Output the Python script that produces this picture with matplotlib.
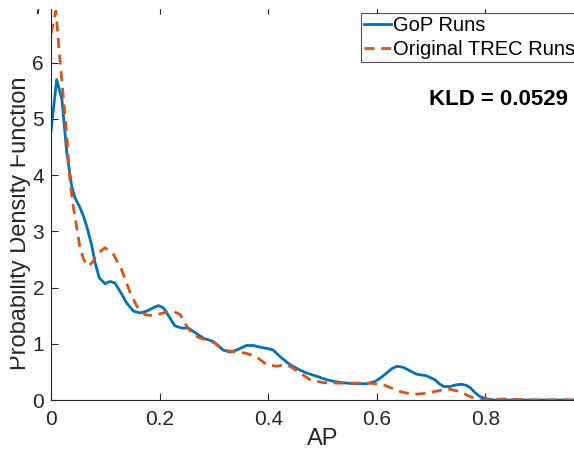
import matplotlib
matplotlib.use("Agg")
import matplotlib.pyplot as plt
from matplotlib.patches import Rectangle
from matplotlib.ticker import FormatStrFormatter

plt.rcParams["font.family"] = ["Liberation Sans", "DejaVu Sans"]

# GoP runs density
gop_ap = [0.0, 0.0105, 0.020, 0.029, 0.038, 0.044, 0.052, 0.0595, 0.067, 0.075,
          0.081, 0.089, 0.0995, 0.109, 0.118, 0.128, 0.139, 0.152, 0.164, 0.176,
          0.188, 0.198, 0.207, 0.219, 0.228, 0.241, 0.253, 0.262, 0.281, 0.299,
          0.317, 0.330, 0.342, 0.360, 0.373, 0.385, 0.397, 0.409, 0.422, 0.440,
          0.459, 0.471, 0.490, 0.508, 0.527, 0.545, 0.563, 0.581, 0.597, 0.608,
          0.618, 0.628, 0.637, 0.649, 0.661, 0.673, 0.692, 0.707, 0.715, 0.723,
          0.735, 0.746, 0.756, 0.765, 0.772, 0.781, 0.790, 0.802, 0.815, 0.85, 1.0]
gop_pdf = [4.79, 5.70, 5.36, 4.41, 3.81, 3.60, 3.45, 3.28, 3.05, 2.75,
           2.45, 2.17, 2.07, 2.11, 2.08, 1.92, 1.73, 1.58, 1.55, 1.58,
           1.64, 1.68, 1.64, 1.46, 1.32, 1.28, 1.28, 1.22, 1.10, 1.04,
           0.89, 0.85, 0.89, 0.97, 0.97, 0.94, 0.92, 0.89, 0.77, 0.63,
           0.53, 0.48, 0.42, 0.36, 0.32, 0.30, 0.29, 0.29, 0.33, 0.40,
           0.48, 0.56, 0.60, 0.58, 0.52, 0.46, 0.43, 0.36, 0.29, 0.24,
           0.24, 0.27, 0.28, 0.26, 0.22, 0.13, 0.06, 0.02, 0.0, 0.0, 0.0]

# original TREC runs density
trec_ap = [0.0, 0.009, 0.0165, 0.023, 0.029, 0.035, 0.040, 0.044, 0.053, 0.060,
           0.069, 0.078, 0.084, 0.0995, 0.115, 0.130, 0.145, 0.158, 0.173, 0.188,
           0.207, 0.225, 0.238, 0.250, 0.262, 0.275, 0.287, 0.302, 0.317, 0.336,
           0.360, 0.379, 0.397, 0.416, 0.430, 0.440, 0.459, 0.477, 0.501, 0.532,
           0.563, 0.587, 0.612, 0.628, 0.643, 0.667, 0.692, 0.716, 0.735, 0.753,
           0.772, 0.790, 0.84, 0.88, 1.0]
trec_pdf = [6.52, 6.92, 6.05, 5.36, 4.70, 3.90, 3.50, 3.27, 2.73, 2.50,
            2.38, 2.47, 2.59, 2.71, 2.59, 2.32, 1.93, 1.67, 1.52, 1.50,
            1.55, 1.58, 1.52, 1.31, 1.16, 1.10, 1.07, 1.01, 0.89, 0.86,
            0.83, 0.76, 0.63, 0.60, 0.63, 0.60, 0.48, 0.36, 0.31, 0.30,
            0.30, 0.30, 0.27, 0.21, 0.15, 0.10, 0.12, 0.17, 0.19, 0.15,
            0.06, 0.0, 0.02, 0.0, 0.0]

xtick_vals = [0, 0.2, 0.4, 0.6, 0.8]
kld_text = "KLD = 0.0529"

W, H = 574, 459
fig = plt.figure(figsize=(W / 100, H / 100), dpi=100)
# the source picture is cropped: x = 1 lies past the right edge
ax = fig.add_axes([51 / W, 59 / H, 543 / W, 393.4 / H])

blue = "#0072BD"
orange = "#D95319"
dark = "#262626"

ax.plot(gop_ap, gop_pdf, color=blue, lw=2.0, label="GoP Runs")
ax.plot(trec_ap, trec_pdf, color=orange, lw=2.0, dashes=(3.6, 2.4),
        label="Original TREC Runs")

ax.set_xlim(0, 1)
ax.set_ylim(0, 7)
ax.set_xticks(xtick_vals)
ax.set_yticks(range(0, 8))
ax.xaxis.set_major_formatter(FormatStrFormatter("%g"))

ax.tick_params(direction="in", length=5, width=0.8, colors=dark,
               labelsize=15, top=True, right=True)
ax.tick_params(axis="x", pad=7)
ax.tick_params(axis="y", pad=5)
for sp in ax.spines.values():
    sp.set_color(dark)
    sp.set_linewidth(0.8)

ax.set_xlabel("AP", fontsize=17, color=dark)
ax.set_ylabel("Probability Density Function", fontsize=17, color=dark)
ax.xaxis.set_label_coords(0.5, -0.072)
ax.yaxis.set_label_coords(-0.037, 0.449)

ax.text(0.952, 5.34, kld_text, fontsize=16, fontweight="bold",
        ha="right", va="center", color="black")

# legend box runs past the right edge like in the source
leg = fig.legend(loc="upper left",
                 bbox_to_anchor=(361 / W, 1 - 65 / H, 228 / W, 52 / H),
                 mode="expand", frameon=True, fancybox=False, fontsize=14.5,
                 handlelength=1.35, handletextpad=0.1, borderpad=0.15,
                 labelspacing=0.25, borderaxespad=0)
leg.get_frame().set_edgecolor(dark)
leg.get_frame().set_linewidth(0.8)

# crop margins of the source picture
fig.add_artist(Rectangle((0, 1 - 8 / H), 1, 8 / H, transform=fig.transFigure,
                         color="white", zorder=20))
fig.add_artist(Rectangle((0, 0), 9 / W, 1, transform=fig.transFigure,
                         color="white", zorder=20))

fig.savefig("out.png", dpi=100)
